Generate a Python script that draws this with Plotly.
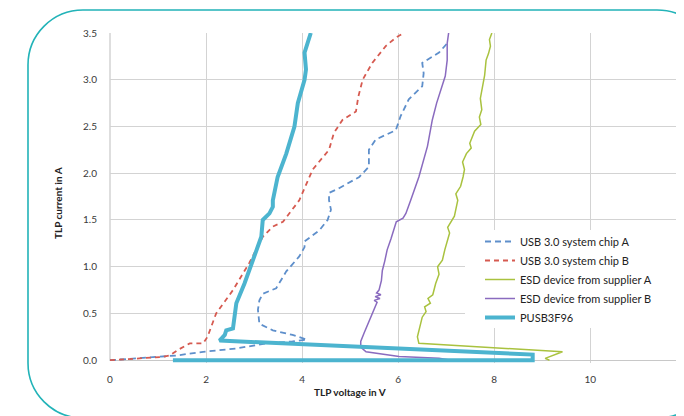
import plotly.graph_objects as go

# ---------------- data ----------------
chipA_v = [0.0, 1.04, 1.38, 1.94, 2.63, 3.25, 3.80, 4.10, 3.80, 3.39, 3.11, 3.08, 3.11, 3.18,
           3.46, 3.67, 3.94, 4.05, 4.05, 4.36, 4.53, 4.60, 4.56, 4.56, 4.77, 5.19, 5.39, 5.39,
           5.53, 5.95, 6.05, 6.22, 6.50, 6.53, 6.50, 6.85, 7.02]
chipA_i = [0.0, 0.035, 0.05, 0.09, 0.125, 0.18, 0.20, 0.22, 0.27, 0.32, 0.39, 0.54, 0.64, 0.71,
           0.77, 0.95, 1.11, 1.21, 1.27, 1.39, 1.50, 1.61, 1.71, 1.79, 1.84, 1.96, 2.07, 2.25,
           2.36, 2.46, 2.61, 2.79, 2.93, 3.07, 3.18, 3.29, 3.39]

chipB_v = [0.0, 1.10, 1.24, 1.45, 1.66, 1.94, 2.03, 2.21, 2.56, 2.90, 3.18, 3.39, 3.60, 3.73,
           3.94, 4.22, 4.56, 4.66, 4.84, 5.12, 5.17, 5.26, 5.46, 5.74, 5.95, 6.12]
chipB_i = [0.0, 0.035, 0.05, 0.12, 0.18, 0.18, 0.25, 0.50, 0.75, 1.04, 1.32, 1.43, 1.48, 1.57,
           1.71, 2.04, 2.25, 2.43, 2.57, 2.66, 2.82, 3.00, 3.18, 3.36, 3.45, 3.50]

esdA_v = [9.15, 9.06, 9.42, 6.43, 6.40, 6.45, 6.50, 6.58, 6.55, 6.67, 6.62, 6.72, 6.78, 6.85,
          6.82, 6.92, 6.97, 7.07, 7.03, 7.17, 7.24, 7.20, 7.30, 7.35, 7.38, 7.34, 7.42, 7.52,
          7.49, 7.59, 7.72, 7.69, 7.74, 7.71, 7.76, 7.80, 7.83, 7.88, 7.92, 7.90, 7.95]
esdA_i = [0.0, 0.02, 0.09, 0.18, 0.25, 0.35, 0.46, 0.52, 0.57, 0.61, 0.66, 0.70, 0.82, 0.92,
          1.00, 1.07, 1.18, 1.36, 1.42, 1.54, 1.71, 1.78, 1.86, 1.96, 2.04, 2.12, 2.21, 2.27,
          2.32, 2.45, 2.52, 2.60, 2.68, 2.80, 2.93, 3.05, 3.21, 3.28, 3.36, 3.43, 3.50]

esdB_v = [7.10, 6.85, 6.02, 5.60, 5.33, 5.22, 5.22, 5.29, 5.36, 5.43, 5.50, 5.56, 5.50, 5.62,
          5.52, 5.64, 5.55, 5.60, 5.65, 5.67, 5.72, 5.77, 5.85, 5.93, 5.96, 6.10, 6.16, 6.26,
          6.43, 6.61, 6.71, 6.80, 6.92, 6.98, 7.02, 7.02, 7.05]
esdB_i = [0.0, 0.02, 0.04, 0.07, 0.09, 0.14, 0.20, 0.29, 0.38, 0.46, 0.55, 0.62, 0.64, 0.66,
          0.68, 0.70, 0.72, 0.75, 0.85, 0.96, 1.06, 1.18, 1.30, 1.45, 1.48, 1.52, 1.57, 1.71,
          1.96, 2.29, 2.57, 2.75, 2.93, 3.04, 3.21, 3.39, 3.50]

pusb_v = [1.31, 8.80, 8.80, 2.28, 2.39, 2.42, 2.56, 2.59, 2.63, 2.80, 2.97, 3.15, 3.18, 3.32,
          3.39, 3.39, 3.49, 3.67, 3.84, 3.91, 4.05, 4.08, 4.05, 4.18]
pusb_i = [0.0, 0.0, 0.06, 0.21, 0.27, 0.32, 0.34, 0.50, 0.61, 0.82, 1.07, 1.32, 1.50, 1.57,
          1.64, 1.71, 1.96, 2.21, 2.50, 2.75, 3.00, 3.11, 3.29, 3.50]

series_names = ["USB 3.0 system chip A", "USB 3.0 system chip B",
                "ESD device from supplier A", "ESD device from supplier B", "PUSB3F96"]
x_ticks = [0, 2, 4, 6, 8, 10]
y_ticks = [0.0, 0.5, 1.0, 1.5, 2.0, 2.5, 3.0, 3.5]
x_title = "TLP voltage in V"
y_title = "TLP current in A"

# ---------------- figure ----------------
OFF = 8                       # page body margin of the browser
W, H = 684 - OFF, 416 - OFF   # figure size so it fits the window
ML, MR, MT, MB = 102, 0, 25, 53
PW, PH = W - ML - MR, H - MT - MB

def px(xs):   # screen x pixel -> paper coordinate
    return (xs - OFF - ML) / PW

def py(ys):   # screen y pixel -> paper coordinate
    return (H - MB - (ys - OFF)) / PH

fig = go.Figure()
styles = [
    dict(color="#5e8fcb", width=1.8, dash="6px,4px"),
    dict(color="#d65a50", width=1.8, dash="5px,4px"),
    dict(color="#a9c23f", width=1.5),
    dict(color="#8a6bbf", width=1.5),
    dict(color="#4cb4cf", width=4),
]
data = [(chipA_v, chipA_i), (chipB_v, chipB_i), (esdA_v, esdA_i), (esdB_v, esdB_i), (pusb_v, pusb_i)]
for name, (v, i), st in zip(series_names, data, styles):
    fig.add_trace(go.Scatter(x=v, y=i, mode="lines", name=name, line=st,
                             legendgroup=name, hoverinfo="skip"))

font_fam = "Lato, 'Open Sans', sans-serif"
fig.update_layout(
    width=W, height=H,
    margin=dict(l=ML, r=MR, t=MT, b=MB, pad=0, autoexpand=False),
    paper_bgcolor="white", plot_bgcolor="white",
    font=dict(family=font_fam, size=10, color="#404040"),
    showlegend=True,
    legend=dict(x=px(480), y=py(227), xanchor="left", yanchor="top",
                bgcolor="rgba(0,0,0,0)", borderwidth=0, itemwidth=30,
                tracegroupgap=2.5, traceorder="normal",
                font=dict(family=font_fam, size=11, color="#222222")),
    xaxis=dict(range=[0, 11.95], tickvals=x_ticks, showgrid=True, gridcolor="#d3d3d3",
               gridwidth=1, zeroline=False, showline=False, ticks="outside", ticklen=7,
               tickcolor="rgba(0,0,0,0)", tickfont=dict(size=10, color="#3a3a3a")),
    yaxis=dict(range=[-0.03, 3.5], tickvals=y_ticks, tickformat=".1f", showgrid=True,
               gridcolor="#d3d3d3", gridwidth=1, zeroline=True, zerolinecolor="#c8c8c8",
               zerolinewidth=1, showline=False, ticks="outside", ticklen=10,
               tickcolor="rgba(0,0,0,0)", tickfont=dict(size=10, color="#3a3a3a")),
)

# left axis line at x = 0
fig.add_shape(type="line", xref="paper", yref="paper", x0=0, x1=0, y0=py(361), y1=1,
              line=dict(color="#c8c8c8", width=1.2), layer="below")

# white legend background hiding the gridlines (no traces pass there)
fig.add_shape(type="rect", xref="paper", yref="paper",
              x0=px(465), x1=px(690), y0=py(328), y1=py(230),
              fillcolor="white", line=dict(width=0), layer="above")

# axis titles
fig.add_annotation(text="<b>" + x_title + "</b>", xref="paper", yref="paper",
                   x=px(350), y=py(392), showarrow=False, xanchor="center", yanchor="middle",
                   font=dict(family=font_fam, size=10, color="#222222"))
fig.add_annotation(text="<b>" + y_title + "</b>", xref="paper", yref="paper",
                   x=px(58), y=py(203), showarrow=False, textangle=-90,
                   xanchor="center", yanchor="middle",
                   font=dict(family=font_fam, size=10, color="#222222"))
# partially visible 12 tick label at the cropped right edge
fig.add_annotation(text="12", xref="paper", yref="paper", x=px(687), y=py(379),
                   showarrow=False, xanchor="center", yanchor="middle",
                   font=dict(family=font_fam, size=10, color="#3a3a3a"))

# rounded teal frame
L, T, R, B, r = 28, 10, 712, 418, 55
k = 0.5523 * r
def P(a, b):
    return f"{px(a):.5f},{py(b):.5f}"
path = (f"M {P(L + r, T)} L {P(R - r, T)} C {P(R - r + k, T)} {P(R, T + r - k)} {P(R, T + r)} "
        f"L {P(R, B - r)} C {P(R, B - r + k)} {P(R - r + k, B)} {P(R - r, B)} "
        f"L {P(L + r, B)} C {P(L + r - k, B)} {P(L, B - r + k)} {P(L, B - r)} "
        f"L {P(L, T + r)} C {P(L, T + r - k)} {P(L + r - k, T)} {P(L + r, T)} Z")
fig.add_shape(type="path", xref="paper", yref="paper", path=path,
              line=dict(color="#22b3b8", width=1.6), layer="above")

fig.write_html("out.html")
